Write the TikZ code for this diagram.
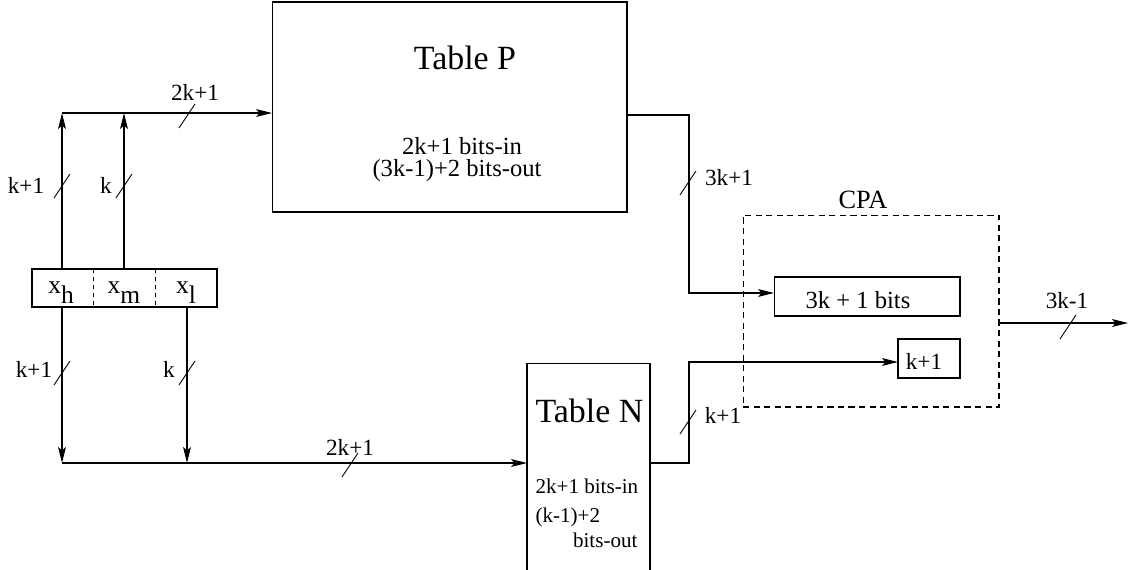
\documentclass[tikz,border=0pt]{standalone}
\usepackage{fontspec}
\setmainfont{Liberation Serif}
\usetikzlibrary{arrows.meta,calc}
% bus-width tick across a connector, centred on the given coordinate
\newcommand\buswidth[1]{\draw[tick] ($(#1)+(-8,12)$) -- ++(16,-24);}
\begin{document}
\begin{tikzpicture}[x=0.02cm,y=-0.02cm,
  line width=0.6pt,
  arr/.style={-{Stealth[length=9pt,width=4.4pt,inset=1.8pt]}},
  blk/.style={draw,inner sep=0pt,outer sep=0pt},
  small/.style={font=\fontsize{13.2}{16}\selectfont},
  ptxt/.style={font=\fontsize{14}{16}\selectfont},
  ntxt/.style={font=\fontsize{12}{14}\selectfont},
  xtxt/.style={font=\fontsize{14.5}{16}\selectfont,inner sep=0pt,anchor=base},
  big/.style={font=\fontsize{19.3}{23}\selectfont},
  mid/.style={font=\fontsize{15}{18}\selectfont},
  lbl/.style={small,inner sep=0pt,anchor=base},
  tick/.style={line width=0.5pt},
  divider/.style={line width=0.5pt,dash pattern=on 2.5pt off 2pt},
  cpabox/.style={blk,line width=0.6pt,dash pattern=on 3.5pt off 2.5pt}]
\useasboundingbox (0,0) rectangle (1128,569);
\clip (0,0) rectangle (1128,569);

% Table P
\node[blk,minimum width=7.1cm,minimum height=4.2cm] (tp) at (449.5,107) {};
\node[big,inner sep=0pt,anchor=base] (tpt) at (465,69) {Table P};
\node[ptxt,inner sep=0pt,anchor=base] (tpi) at (462,154) {2k+1 bits-in};
\node[ptxt,inner sep=0pt,anchor=base] (tpo) at (457,176) {(3k-1)+2 bits-out};

% Table N (runs off the bottom edge)
\node[blk,minimum width=2.46cm,minimum height=4.74cm] (tn) at (588.5,481.5) {};
\node[big,inner sep=0pt,anchor=base west] (tnt) at (535,422) {Table N};
\node[ntxt,inner sep=0pt,anchor=base west] (tni) at (535,493) {2k+1 bits-in};
\node[ntxt,inner sep=0pt,anchor=base west] (tno) at (535,522) {(k-1)+2};
\node[ntxt,inner sep=0pt,anchor=base east] (tnb) at (638,547) {bits-out};

% input word split into x_h, x_m, x_l
\node[blk,minimum width=3.7cm,minimum height=0.76cm] (in) at (124.5,288) {};
\draw[divider] (93,269) -- (93,307);
\draw[divider] (155,269) -- (155,307);
\node[xtxt] (xh) at (61,293) {x\raisebox{-0.4em}{h}};
\node[xtxt] (xm) at (124,293) {x\raisebox{-0.4em}{m}};
\node[xtxt] (xl) at (186,293) {x\raisebox{-0.4em}{l}};

% CPA
\node[cpabox,minimum width=5.12cm,minimum height=3.84cm] (cpa) at (871,311) {};
\node[mid,inner sep=0pt,anchor=base] (cpat) at (863,208) {CPA};
\node[blk,minimum width=3.72cm,minimum height=0.78cm] (s3) at (867,296.5) {};
\node[ptxt,inner sep=0pt,anchor=base] (s3t) at (858,308) {3k + 1 bits};
\node[blk,minimum width=1.24cm,minimum height=0.78cm] (s1) at (929,358.5) {};
\node[lbl] (s1t) at (924,369) {k+1};

% junction and bend points
\coordinate (jh) at (62,113);
\coordinate (jm) at (124,113);
\coordinate (bh) at (62,463);
\coordinate (bl) at (187,463);
\coordinate (pc) at (689,115);
\coordinate (pd) at (689,293);
\coordinate (nc) at (689,463);
\coordinate (nd) at (689,362);
\coordinate (co) at (1128,323);

% upper bus into Table P
\draw[arr] (in.north -| jh) -- (jh);
\draw[arr] (in.north -| jm) -- (jm);
\draw[arr] (jh) -- (jh -| tp.west);

% lower bus into Table N
\draw[arr] (in.south -| bh) -- (bh);
\draw[arr] (in.south -| bl) -- (bl);
\draw[arr] (bh) -- (bh -| tn.west);

% table outputs into the CPA
\draw[arr] (tp.east |- pc) -- (pc) -- (pd) -- (pd -| s3.west);
\draw[arr] (tn.east |- nc) -- (nc) -- (nd) -- (nd -| s1.west);
\draw[arr] (cpa.east |- co) -- (co);

% bus widths
\coordinate (w1) at (62,186);   \buswidth{w1}
\coordinate (w2) at (124,186);  \buswidth{w2}
\coordinate (w3) at (187,116);  \buswidth{w3}
\coordinate (w4) at (62,373);   \buswidth{w4}
\coordinate (w5) at (187,373);  \buswidth{w5}
\coordinate (w6) at (350,465);  \buswidth{w6}
\coordinate (w7) at (688,183);  \buswidth{w7}
\coordinate (w8) at (688,422);  \buswidth{w8}
\coordinate (w9) at (1068,327); \buswidth{w9}

\node[lbl] (l1) at (26,193) {k+1};
\node[lbl] (l2) at (106,193) {k};
\node[lbl] (l3) at (195,100) {2k+1};
\node[lbl] (l4) at (34,377) {k+1};
\node[lbl] (l5) at (169,377) {k};
\node[lbl] (l6) at (350,455) {2k+1};
\node[lbl] (l7) at (729,185) {3k+1};
\node[lbl] (l8) at (723,423) {k+1};
\node[lbl] (l9) at (1067,308) {3k-1};
\end{tikzpicture}
\end{document}
